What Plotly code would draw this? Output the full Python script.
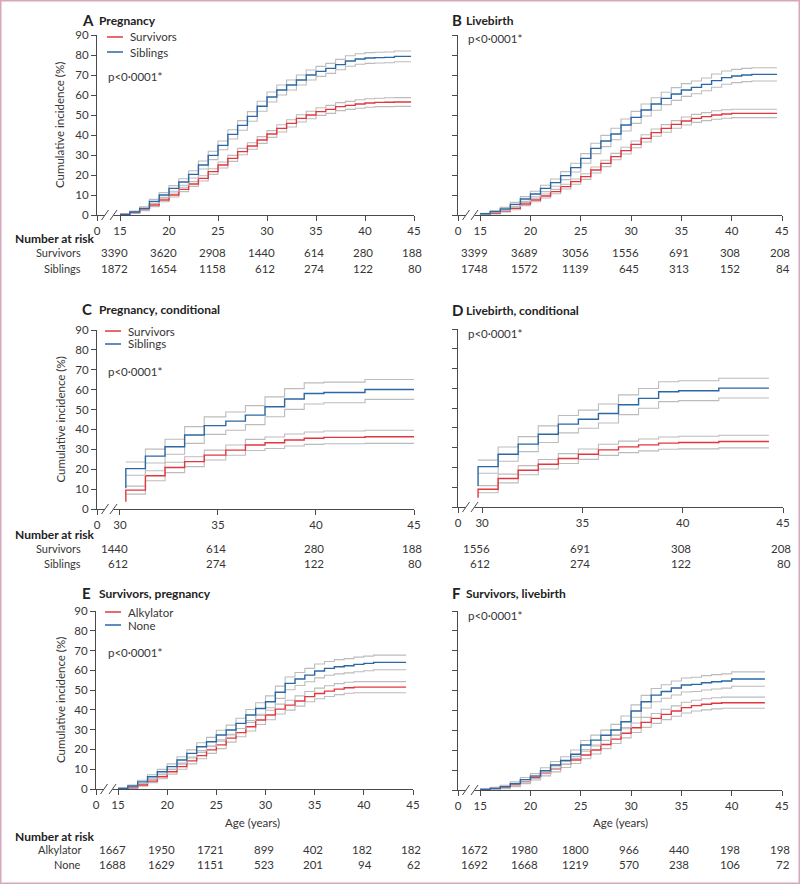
import plotly.graph_objects as go

W, H = 800, 884
FONT = "Lato"
TXT = "#363636"
AXC = "#4a4a4a"
RED = "#e3373f"
BLUE = "#2b68a4"
GREY = "#bcbcbc"

# ---------------- data ----------------
# Panel A - Pregnancy (step start ages; curves end at A_end)
A_ages = [15, 16, 17, 18, 19, 20, 21, 22, 23, 24, 25, 26, 27, 28, 29,
          30, 31, 32, 33, 34, 35, 36, 37, 38, 39, 40, 41, 42, 43, 44]
A_end = 44.7
A_survivors = [0.3, 1.2, 2.8, 5.0, 7.5, 10.0, 12.8, 15.5, 18.3, 21.7, 25.0, 28.3, 31.7, 34.5, 37.5,
               40.5, 43.3, 45.8, 48.3, 50.0, 51.7, 52.8, 54.2, 54.8, 55.5, 56.0, 56.3, 56.4, 56.5, 56.5]
A_survivors_ci = [0.2, 0.4, 0.6, 0.8, 0.9, 1.0, 1.1, 1.2, 1.3, 1.4, 1.5, 1.5, 1.6, 1.6, 1.7,
                  1.7, 1.8, 1.8, 1.8, 1.9, 1.9, 2.0, 2.0, 2.0, 2.1, 2.1, 2.1, 2.2, 2.2, 2.2]
A_siblings = [0.3, 1.5, 3.3, 6.8, 10.0, 13.3, 16.5, 20.3, 25.0, 29.8, 34.8, 40.3, 44.8, 49.3, 54.4,
              59.0, 62.5, 65.0, 67.5, 70.0, 71.8, 73.3, 75.2, 77.0, 78.0, 78.5, 78.7, 78.8, 79.3, 79.3]
A_siblings_ci = [0.3, 0.5, 0.8, 1.0, 1.2, 1.4, 1.6, 1.8, 2.0, 2.1, 2.2, 2.3, 2.4, 2.4, 2.5,
                 2.5, 2.5, 2.5, 2.5, 2.5, 2.5, 2.5, 2.6, 2.6, 2.6, 2.7, 2.7, 2.7, 2.7, 2.7]

# Panel B - Livebirth
B_ages = [15, 16, 17, 18, 19, 20, 21, 22, 23, 24, 25, 26, 27, 28, 29,
          30, 31, 32, 33, 34, 35, 36, 37, 38, 39, 40, 41, 42, 43, 44]
B_end = 44.5
B_survivors = [0.5, 0.8, 2.0, 3.3, 5.5, 7.5, 9.5, 11.7, 14.2, 16.7, 19.2, 22.5, 25.8, 29.2, 32.2,
               35.3, 38.3, 41.2, 43.3, 45.3, 47.0, 48.3, 49.2, 50.0, 50.5, 50.8, 50.8, 50.8, 50.8, 50.8]
B_survivors_ci = [0.2, 0.3, 0.5, 0.7, 0.8, 0.9, 1.0, 1.1, 1.2, 1.3, 1.4, 1.5, 1.6, 1.6, 1.7,
                  1.7, 1.8, 1.8, 1.9, 1.9, 2.0, 2.0, 2.0, 2.1, 2.1, 2.1, 2.1, 2.1, 2.1, 2.1]
B_siblings = [0.6, 1.7, 3.0, 5.3, 8.0, 10.5, 13.3, 16.2, 19.7, 23.7, 28.3, 33.3, 37.0, 40.5, 45.0,
              48.8, 52.5, 55.5, 58.3, 60.5, 62.5, 63.8, 65.3, 67.2, 68.7, 69.5, 70.0, 70.3, 70.3, 70.3]
B_siblings_ci = [0.3, 0.5, 0.8, 1.0, 1.2, 1.4, 1.6, 1.8, 2.0, 2.2, 2.4, 2.6, 2.8, 2.9, 3.0,
                 3.0, 3.0, 3.1, 3.1, 3.2, 3.2, 3.2, 3.2, 3.3, 3.3, 3.3, 3.3, 3.3, 3.3, 3.3]

# Panel C - Pregnancy, conditional (on survival to 30)
C_ages = [30.3, 31.3, 32.3, 33.3, 34.3, 35.4, 36.4, 37.4, 38.4, 39.4, 40.4, 42.5]
C_end = 45.0
C_survivors_start = 3.7
C_survivors = [9.5, 16.7, 20.9, 23.8, 27.1, 29.6, 32.2, 33.3, 34.7, 35.6, 36.0, 36.3]
C_survivors_ci = [2.0, 2.5, 2.6, 2.5, 2.5, 2.6, 2.8, 2.9, 3.0, 3.1, 3.2, 3.3]
C_siblings_start = 10.4
C_siblings = [20.3, 26.6, 31.3, 37.2, 41.9, 44.2, 47.2, 51.4, 55.3, 58.1, 58.6, 60.1]
C_siblings_ci = [3.3, 3.5, 3.8, 4.2, 4.4, 4.6, 4.8, 5.0, 5.2, 5.3, 5.2, 5.0]

# Panel D - Livebirth, conditional
D_ages = [29.8, 30.8, 31.8, 32.8, 33.8, 34.8, 35.8, 36.8, 37.8, 38.8, 39.8, 41.8]
D_end = 44.3
D_survivors_start = 4.7
D_survivors = [9.0, 14.4, 18.6, 21.6, 24.5, 26.7, 28.9, 30.4, 31.4, 32.3, 32.6, 33.1]
D_survivors_ci = [1.8, 2.2, 2.3, 2.4, 2.5, 2.6, 2.8, 2.9, 3.0, 3.1, 3.2, 3.2]
D_siblings_start = 10.6
D_siblings = [20.4, 26.7, 31.8, 36.8, 41.9, 44.4, 47.3, 51.7, 54.9, 58.3, 58.8, 60.1]
D_siblings_ci = [3.3, 3.6, 3.8, 4.2, 4.4, 4.6, 4.8, 5.0, 5.0, 5.0, 5.0, 5.0]

# Panel E - Survivors, pregnancy
E_ages = [15, 16, 17, 18, 19, 20, 21, 22, 23, 24, 25, 26, 27, 28, 29,
          30, 31, 32, 33, 34, 35, 36, 37, 38, 39, 40, 41, 42, 43, 44]
E_end = 44.3
E_alkylator = [0.1, 0.7, 2.0, 4.0, 6.2, 8.7, 11.3, 14.2, 16.9, 19.8, 22.3, 25.7, 28.5, 31.5, 34.9,
               37.4, 40.4, 42.4, 44.5, 46.7, 48.3, 49.5, 50.5, 51.2, 51.5, 51.5, 51.5, 51.5, 51.5, 51.5]
E_alkylator_ci = [0.2, 0.4, 0.6, 0.8, 1.0, 1.2, 1.3, 1.5, 1.6, 1.8, 1.9, 2.0, 2.1, 2.2, 2.3,
                  2.4, 2.5, 2.5, 2.6, 2.6, 2.7, 2.7, 2.8, 2.8, 2.8, 2.8, 2.8, 2.8, 2.8, 2.8]
E_none = [0.3, 1.5, 3.6, 6.2, 8.7, 11.3, 14.7, 18.0, 21.4, 23.9, 27.3, 29.8, 33.2, 37.4, 40.7,
          44.1, 48.9, 53.4, 55.6, 57.6, 59.7, 61.0, 61.8, 62.3, 63.0, 63.5, 64.0, 64.0, 64.0, 64.0]
E_none_ci = [0.3, 0.5, 0.8, 1.0, 1.2, 1.4, 1.6, 1.8, 2.0, 2.2, 2.4, 2.5, 2.6, 2.8, 2.9,
             3.0, 3.1, 3.2, 3.3, 3.4, 3.5, 3.5, 3.6, 3.6, 3.7, 3.7, 3.7, 3.7, 3.7, 3.7]

# Panel F - Survivors, livebirth
F_ages = [15, 16, 17, 18, 19, 20, 21, 22, 23, 24, 25, 26, 27, 28, 29,
          30, 31, 32, 33, 34, 35, 36, 37, 38, 39, 40, 41, 42, 43]
F_end = 43.3
F_alkylator = [0.3, 0.5, 1.3, 2.5, 4.2, 6.2, 8.4, 10.6, 12.9, 15.1, 17.6, 20.1, 22.9, 25.6, 28.5,
               31.3, 34.0, 36.0, 38.0, 39.7, 41.4, 42.4, 43.1, 43.6, 43.9, 43.9, 43.9, 43.9, 43.9]
F_alkylator_ci = [0.2, 0.4, 0.6, 0.8, 1.0, 1.2, 1.3, 1.5, 1.6, 1.8, 1.9, 2.0, 2.1, 2.2, 2.3,
                  2.4, 2.5, 2.5, 2.6, 2.6, 2.7, 2.7, 2.8, 2.8, 2.8, 2.8, 2.8, 2.8, 2.8]
F_none = [0.3, 0.8, 1.7, 3.2, 5.2, 7.0, 9.7, 12.6, 14.8, 18.0, 22.6, 25.1, 27.5, 30.2, 34.3,
          39.7, 44.4, 47.7, 49.5, 51.3, 52.8, 53.1, 53.9, 54.4, 54.8, 55.8, 55.8, 55.8, 55.8]
F_none_ci = [0.3, 0.5, 0.7, 0.9, 1.1, 1.3, 1.5, 1.7, 1.9, 2.1, 2.3, 2.5, 2.6, 2.8, 2.9,
             3.1, 3.2, 3.3, 3.4, 3.5, 3.5, 3.6, 3.6, 3.6, 3.6, 3.6, 3.6, 3.6, 3.6]

# Number-at-risk tables
risk_ages_full = [15, 20, 25, 30, 35, 40, 45]
risk_ages_cond = [30, 35, 40, 45]
A_risk_survivors = [3390, 3620, 2908, 1440, 614, 280, 188]
A_risk_siblings = [1872, 1654, 1158, 612, 274, 122, 80]
B_risk_survivors = [3399, 3689, 3056, 1556, 691, 308, 208]
B_risk_siblings = [1748, 1572, 1139, 645, 313, 152, 84]
C_risk_survivors = [1440, 614, 280, 188]
C_risk_siblings = [612, 274, 122, 80]
D_risk_survivors = [1556, 691, 308, 208]
D_risk_siblings = [612, 274, 122, 80]
E_risk_alkylator = [1667, 1950, 1721, 899, 402, 182, 182]
E_risk_none = [1688, 1629, 1151, 523, 201, 94, 62]
F_risk_alkylator = [1672, 1980, 1800, 966, 440, 198, 198]
F_risk_none = [1692, 1668, 1219, 570, 238, 106, 72]

y_ticks = [0, 10, 20, 30, 40, 50, 60, 70, 80, 90]


def fx(px):
    return px / W


def fy(py):
    return 1 - py / H


# panel geometry in pixels
panels = [
    dict(k=1, letter="A", title="Pregnancy", xp=(97, 414), yp=(35, 215), xr=(12.65, 45),
         major=[15, 20, 25, 30, 35, 40, 45], left=True, ty=20),
    dict(k=2, letter="B", title="Livebirth", xp=(458, 782), yp=(35, 215), xr=(12.8, 45),
         major=[15, 20, 25, 30, 35, 40, 45], left=False, ty=19.5),
    dict(k=3, letter="C", title="Pregnancy, conditional", xp=(97, 414), yp=(330, 509), xr=(28.83, 45),
         major=[30, 35, 40, 45], left=True, ty=309),
    dict(k=4, letter="D", title="Livebirth, conditional", xp=(458, 783), yp=(329, 507), xr=(28.8, 45),
         major=[30, 35, 40, 45], left=False, ty=310),
    dict(k=5, letter="E", title="Survivors, pregnancy", xp=(96, 413), yp=(611, 789), xr=(12.76, 45),
         major=[15, 20, 25, 30, 35, 40, 45], left=True, ty=593),
    dict(k=6, letter="F", title="Survivors, livebirth", xp=(458, 782), yp=(611, 790), xr=(12.8, 45),
         major=[15, 20, 25, 30, 35, 40, 45], left=False, ty=593),
]

fig = go.Figure()


def add_curve(k, ages, end, vals, ci, color, start=None):
    xa = "x" if k == 1 else f"x{k}"
    ya = "y" if k == 1 else f"y{k}"
    xs = list(ages) + [end]
    lo = [max(0.0, v - c) for v, c in zip(vals, ci)]
    hi = [v + c for v, c in zip(vals, ci)]
    for band in (lo, hi):
        fig.add_trace(go.Scatter(x=xs, y=band + [band[-1]], mode="lines",
                                 line=dict(color=GREY, width=1.1, shape="hv"),
                                 xaxis=xa, yaxis=ya, showlegend=False, hoverinfo="skip"))
    if start is not None:
        mx = [ages[0]] + xs
        my = [start] + list(vals) + [vals[-1]]
    else:
        mx = xs
        my = list(vals) + [vals[-1]]
    fig.add_trace(go.Scatter(x=mx, y=my, mode="lines",
                             line=dict(color=color, width=1.4, shape="hv"),
                             xaxis=xa, yaxis=ya, showlegend=False))


add_curve(1, A_ages, A_end, A_survivors, A_survivors_ci, RED)
add_curve(1, A_ages, A_end, A_siblings, A_siblings_ci, BLUE)
add_curve(2, B_ages, B_end, B_survivors, B_survivors_ci, RED)
add_curve(2, B_ages, B_end, B_siblings, B_siblings_ci, BLUE)
add_curve(3, C_ages, C_end, C_survivors, C_survivors_ci, RED, C_survivors_start)
add_curve(3, C_ages, C_end, C_siblings, C_siblings_ci, BLUE, C_siblings_start)
add_curve(4, D_ages, D_end, D_survivors, D_survivors_ci, RED, D_survivors_start)
add_curve(4, D_ages, D_end, D_siblings, D_siblings_ci, BLUE, D_siblings_start)
add_curve(5, E_ages, E_end, E_alkylator, E_alkylator_ci, RED)
add_curve(5, E_ages, E_end, E_none, E_none_ci, BLUE)
add_curve(6, F_ages, F_end, F_alkylator, F_alkylator_ci, RED)
add_curve(6, F_ages, F_end, F_none, F_none_ci, BLUE)

layout = dict(template="none", width=W, height=H,
              margin=dict(l=0, r=0, t=0, b=0, pad=0, autoexpand=False),
              paper_bgcolor="white", plot_bgcolor="white",
              font=dict(family=FONT, size=11, color=TXT), showlegend=False)
shapes = []
annotations = []

REG = 11
BOLD = 12
tickfont = dict(family=FONT, size=11.5, color=TXT)

for p in panels:
    k = p["k"]
    xname = "xaxis" if k == 1 else f"xaxis{k}"
    yname = "yaxis" if k == 1 else f"yaxis{k}"
    xa = "x" if k == 1 else f"x{k}"
    ya = "y" if k == 1 else f"y{k}"
    x0, x1 = p["xp"]
    ytop, ybot = p["yp"]
    tv = [p["xr"][0]] + p["major"]
    tt = ["0"] + [str(v) for v in p["major"]]
    layout[xname] = dict(domain=[fx(x0), fx(x1)], range=list(p["xr"]), anchor=ya,
                         tickvals=tv, ticktext=tt, ticks="outside", ticklen=5, tickwidth=1,
                         tickcolor=AXC, showline=True, linecolor=AXC, linewidth=1,
                         showgrid=False, zeroline=False, tickfont=tickfont, fixedrange=True,
                         automargin=False)
    layout[yname] = dict(domain=[fy(ybot), fy(ytop)], range=[0, 90], anchor=xa,
                         tickvals=y_ticks, ticks="outside", ticklen=5, tickwidth=1,
                         tickcolor=AXC, showline=True, linecolor=AXC, linewidth=1,
                         showgrid=False, zeroline=False, showticklabels=p["left"],
                         tickfont=tickfont, fixedrange=True, automargin=False)
    # axis break
    c1, c2 = x0 + 8, x0 + 16.5
    shapes.append(dict(type="rect", xref="paper", yref="paper",
                       x0=fx(c1), x1=fx(c2), y0=fy(ybot + 2), y1=fy(ybot - 2),
                       fillcolor="white", line=dict(width=0), layer="above"))
    for c in (c1, c2):
        shapes.append(dict(type="line", xref="paper", yref="paper",
                           x0=fx(c - 3.5), x1=fx(c + 3.5), y0=fy(ybot + 5), y1=fy(ybot - 5),
                           line=dict(color=AXC, width=1), layer="above"))
    # panel letter and title
    lx, tx = (80, 96.5) if p["left"] else (450, 464)
    ty = p["ty"]
    annotations.append(dict(text=f"<b>{p['letter']}</b>", x=fx(lx), y=fy(ty), xref="paper", yref="paper",
                            xanchor="left", yanchor="middle", showarrow=False,
                            font=dict(family=FONT, size=15, color="#222")))
    annotations.append(dict(text=f"<b>{p['title']}</b>", x=fx(tx), y=fy(ty + 0.5), xref="paper", yref="paper",
                            xanchor="left", yanchor="middle", showarrow=False,
                            font=dict(family=FONT, size=BOLD, color="#222")))
    # p-value
    px_, py_ = (106, ytop + 41) if p["left"] else (465.5, ytop + 4)
    annotations.append(dict(text="p<0·0001*", x=fx(px_), y=fy(py_), xref="paper", yref="paper",
                            xanchor="left", yanchor="middle", showarrow=False,
                            font=dict(family=FONT, size=11.5, color=TXT)))
    if p["left"]:
        annotations.append(dict(text="Cumulative incidence (%)", x=fx(60), y=fy((ytop + ybot) / 2),
                                xref="paper", yref="paper", textangle=-90, xanchor="center",
                                yanchor="middle", showarrow=False,
                                font=dict(family=FONT, size=11.5, color=TXT)))

# axis titles for bottom row
for cx in (252, 620):
    annotations.append(dict(text="Age (years)", x=fx(cx), y=fy(822), xref="paper", yref="paper",
                            xanchor="center", yanchor="middle", showarrow=False,
                            font=dict(family=FONT, size=11.5, color=TXT)))

# legends (left column)
legend_rows = [
    (37, 52, "Survivors", "Siblings", 107),
    (331, 344, "Survivors", "Siblings", 105),
    (612, 625, "Alkylator", "None", 105),
]
for yr, yb, tr, tb, lx in legend_rows:
    for yy, txt, col in ((yr, tr, RED), (yb, tb, BLUE)):
        shapes.append(dict(type="line", xref="paper", yref="paper", x0=fx(lx), x1=fx(lx + 16),
                           y0=fy(yy), y1=fy(yy), line=dict(color=col, width=1.5)))
        annotations.append(dict(text=txt, x=fx(lx + 21), y=fy(yy), xref="paper", yref="paper",
                                xanchor="left", yanchor="middle", showarrow=False,
                                font=dict(family=FONT, size=11.5, color=TXT)))

# number-at-risk tables
tables = [
    (239, 253, 268, "Survivors", "Siblings",
     [(1, risk_ages_full, A_risk_survivors, A_risk_siblings),
      (2, risk_ages_full, B_risk_survivors, B_risk_siblings)]),
    (534, 548.5, 563, "Survivors", "Siblings",
     [(3, risk_ages_cond, C_risk_survivors, C_risk_siblings),
      (4, risk_ages_cond, D_risk_survivors, D_risk_siblings)]),
    (836, 849, 864, "Alkylator", "None",
     [(5, risk_ages_full, E_risk_alkylator, E_risk_none),
      (6, risk_ages_full, F_risk_alkylator, F_risk_none)]),
]
for yh, y1r, y2r, l1, l2, groups in tables:
    annotations.append(dict(text="<b>Number at risk</b>", x=fx(12.5), y=fy(yh), xref="paper", yref="paper",
                            xanchor="left", yanchor="middle", showarrow=False,
                            font=dict(family=FONT, size=BOLD, color="#222")))
    for yy, lab in ((y1r, l1), (y2r, l2)):
        annotations.append(dict(text=lab, x=fx(83), y=fy(yy), xref="paper", yref="paper",
                                xanchor="right", yanchor="middle", showarrow=False,
                                font=dict(family=FONT, size=REG, color=TXT)))
    for k, ages, r1, r2 in groups:
        xa = "x" if k == 1 else f"x{k}"
        for yy, row in ((y1r, r1), (y2r, r2)):
            for a, n in zip(ages, row):
                annotations.append(dict(text=str(n), x=a, y=fy(yy), xref=xa, yref="paper",
                                        xanchor="right", yanchor="middle", xshift=10, showarrow=False,
                                        font=dict(family=FONT, size=11.5, color=TXT)))

# thin pink frame
shapes.append(dict(type="rect", xref="paper", yref="paper", x0=0, x1=1, y0=0, y1=1,
                   line=dict(color="#d6a8bb", width=3), fillcolor="rgba(0,0,0,0)"))

layout["shapes"] = shapes
layout["annotations"] = annotations
fig.update_layout(**layout)
fig.write_html("out.html", config={"displayModeBar": False, "staticPlot": True},
               post_script="document.body.style.margin='0';document.body.style.padding='0';"
                           "document.documentElement.style.overflow='hidden';")
